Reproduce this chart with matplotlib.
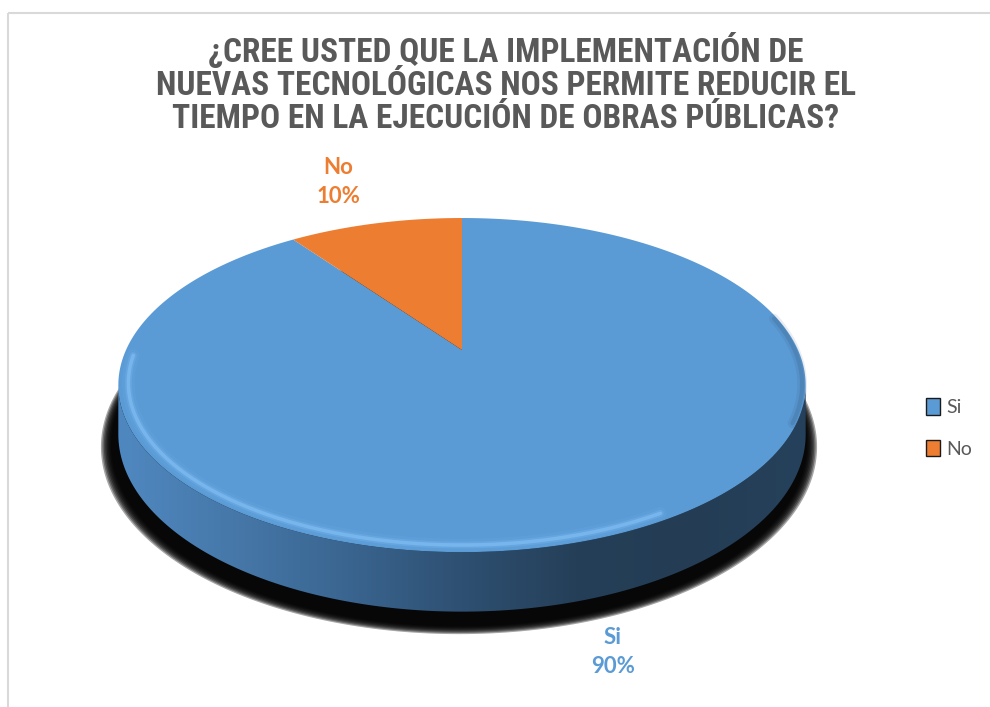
import numpy as np
import matplotlib.pyplot as plt
from matplotlib.patches import Polygon, Rectangle, Patch
from matplotlib.colors import LinearSegmentedColormap

labels = ['Si', 'No']
values = [90, 10]
colors = ['#5B9BD5', '#ED7D31']
title = ('¿CREE USTED QUE LA IMPLEMENTACIÓN DE\n'
         'NUEVAS TECNOLÓGICAS NOS PERMITE REDUCIR EL\n'
         'TIEMPO EN LA EJECUCIÓN DE OBRAS PÚBLICAS?')

W, H = 990, 707
fig = plt.figure(figsize=(W / 100, H / 100), dpi=100)
ax = fig.add_axes([0, 0, 1, 1])
ax.set_xlim(0, W)
ax.set_ylim(H, 0)
ax.axis('off')

# perspective disc: centre, horizontal/vertical scale, tilt, thickness
cx, cy = 462, 350
k = 0.21
a = 336.0
b = 159.7
h0 = 47.0


def proj(theta, r=1.0, drop=0.0, dx=0.0):
    t = np.radians(theta)
    x = r * np.cos(t)
    z = r * np.sin(t)
    w = 1 + k * z
    return cx + dx + a * x / w, cy - b * z / w + drop / w


# shadow (soft edge from stacked translucent layers)
th = np.linspace(0, 360, 361)
for sc in np.linspace(1.04, 1.012, 8):
    u, v = proj(th, r=sc, drop=h0 + 9, dx=-3)
    ax.add_patch(Polygon(np.column_stack([u, v]), closed=True, fc='black',
                         ec='none', alpha=0.35, zorder=1))

# side wall (front, visible part)
t_l = 180 + np.degrees(np.arcsin(k))
t_r = 360 - np.degrees(np.arcsin(k))
th = np.linspace(t_l, t_r, 200)
ut, vt = proj(th)
ub, vb = proj(th[::-1], drop=h0)
side = Polygon(np.column_stack([np.r_[ut, ub], np.r_[vt, vb]]), closed=True,
               fc='none', ec='none', zorder=2)
ax.add_patch(side)
side_cmap = LinearSegmentedColormap.from_list(
    'side', ['#4f88c0', '#4678a9', '#3a6590', '#2e5072', '#253f58', '#243d55', '#26415b'])
grad = np.linspace(0, 1, 256).reshape(1, -1)
im = ax.imshow(grad, cmap=side_cmap, extent=[ut.min(), ut.max(), vb.max(), vt.min()],
               aspect='auto', zorder=2)
im.set_clip_path(side)
ax.set_xlim(0, W)
ax.set_ylim(H, 0)

# top face slices, clockwise from 12 o'clock
fracs = np.array(values) / sum(values)
start = 90.0
for frac, col in zip(fracs, colors):
    end = start - frac * 360
    th = np.linspace(start, end, 300)
    u, v = proj(th)
    ax.add_patch(Polygon(np.column_stack([np.r_[cx, u], np.r_[cy, v]]), closed=True,
                         fc=col, ec='none', zorder=3))
    start = end

# soft highlight on the front-left rim
th = np.linspace(182, 300, 200)
for lw, al in [(9, 0.08), (5, 0.18), (2.5, 0.45)]:
    u, v = proj(th, r=0.972)
    ax.plot(u, v, color='#8ccaff', lw=lw, alpha=al, zorder=4, solid_capstyle='round')
# darker bevel on the right rim
th = np.linspace(335, 372, 80)
for lw, al in [(7, 0.10), (3, 0.18)]:
    u, v = proj(th, r=0.99)
    ax.plot(u, v, color='#2a4a6c', lw=lw, alpha=al, zorder=4, solid_capstyle='round')

# data labels
lab_font = ['Lato', 'DejaVu Sans']
ax.text(338, 182, 'No\n10%', color='#ED7D31', fontsize=16, fontweight='bold',
        ha='center', va='center', family=lab_font, linespacing=1.45, zorder=5)
ax.text(613, 652, 'Si\n90%', color='#5B9BD5', fontsize=16, fontweight='bold',
        ha='center', va='center', family=lab_font, linespacing=1.45, zorder=5)

# title
ax.text(506, 84, title, ha='center', va='center', fontsize=24, fontweight='bold',
        color='#595959', family=['Roboto Condensed', 'Roboto', 'DejaVu Sans'],
        linespacing=1.04, zorder=5)

# frame
ax.add_patch(Rectangle((8, 13), 1000, 720, fc='none', ec='#d9d9d9', lw=1.5, zorder=0))

# legend
handles = [Patch(fc=c, ec='#1a1a1a', lw=1.0, label=l) for c, l in zip(colors, labels)]
fig.legend(handles=handles, loc='center left', bbox_to_anchor=(908 / W, 1 - 428 / H),
           frameon=False, handlelength=0.75, handleheight=0.95, handletextpad=0.3,
           labelspacing=1.2, prop={'family': lab_font, 'size': 14}, labelcolor='#595959')

fig.savefig('out.png', dpi=100)
